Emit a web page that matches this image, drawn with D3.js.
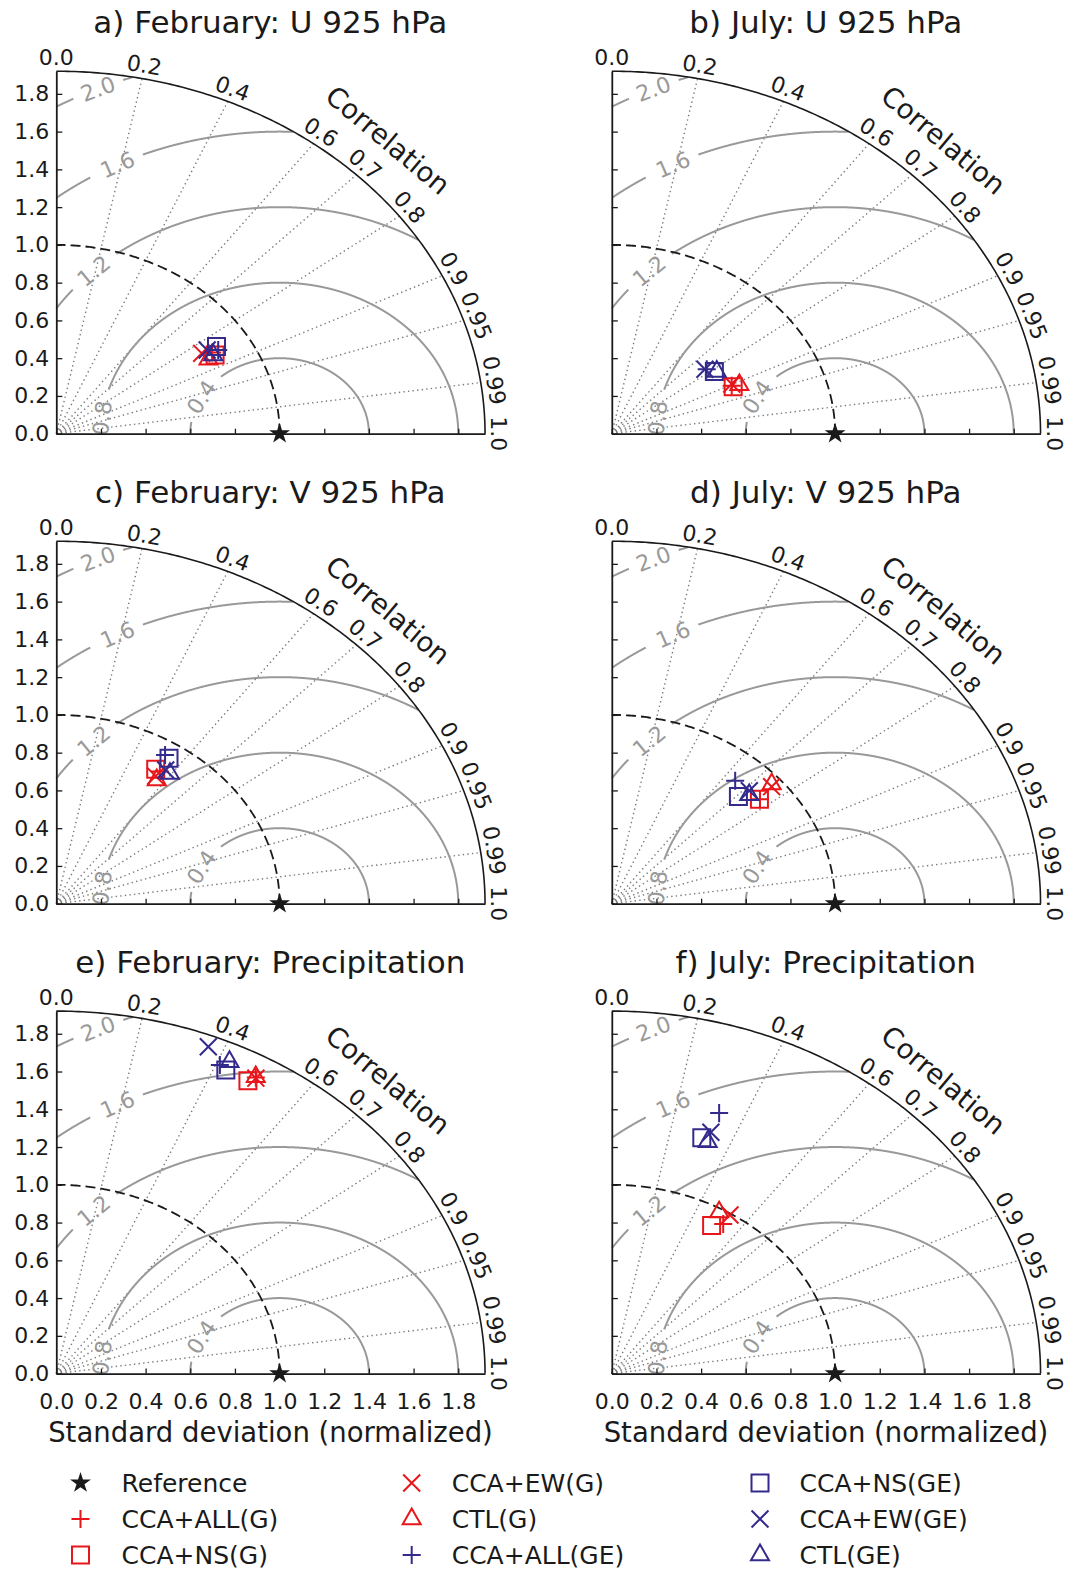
<!DOCTYPE html>
<html><head><meta charset="utf-8">
<script src="https://cdn.jsdelivr.net/npm/d3@7"></script>
<style>body{margin:0;background:#fff} svg{display:block} text{font-family:"DejaVu Sans",sans-serif}</style>
</head><body><svg id="c" width="1070" height="1569"></svg>
<script>
// ---------------- data ----------------
const titles = ["a) February: U 925 hPa", "b) July: U 925 hPa", "c) February: V 925 hPa",
                "d) July: V 925 hPa", "e) February: Precipitation", "f) July: Precipitation"];
const seriesNames = ["CCA+ALL(G)", "CCA+NS(G)", "CCA+EW(G)", "CTL(G)",
                     "CCA+ALL(GE)", "CCA+NS(GE)", "CCA+EW(GE)", "CTL(GE)"];
const refName = "Reference";
const refStd = 1.0;
// normalized standard deviation and correlation, per panel, in seriesNames order
const stdA  = [0.820, 0.824, 0.778, 0.787, 0.850, 0.853, 0.808, 0.817];
const corrA = [0.851, 0.863, 0.837, 0.866, 0.853, 0.841, 0.836, 0.860];
const stdB  = [0.594, 0.598, 0.598, 0.627, 0.545, 0.565, 0.539, 0.574];
const corrB = [0.904, 0.909, 0.898, 0.911, 0.780, 0.813, 0.774, 0.819];
const stdC  = [0.840, 0.840, 0.809, 0.795, 0.926, 0.921, 0.861, 0.857];
const corrC = [0.552, 0.530, 0.550, 0.566, 0.526, 0.548, 0.569, 0.594];
const stdD  = [0.864, 0.862, 0.947, 0.956, 0.854, 0.802, 0.859, 0.843];
const corrD = [0.768, 0.767, 0.756, 0.749, 0.647, 0.707, 0.717, 0.730];
const stdE  = [1.805, 1.773, 1.802, 1.808, 1.791, 1.778, 1.860, 1.825];
const corrE = [0.495, 0.484, 0.496, 0.494, 0.409, 0.427, 0.366, 0.425];
const stdF  = [0.936, 0.903, 0.993, 0.981, 1.461, 1.313, 1.353, 1.301];
const corrF = [0.533, 0.495, 0.533, 0.490, 0.329, 0.307, 0.328, 0.330];
const panelStd  = [stdA, stdB, stdC, stdD, stdE, stdF];
const panelCorr = [corrA, corrB, corrC, corrD, corrE, corrF];

const stdTicks   = [0, 0.2, 0.4, 0.6, 0.8, 1.0, 1.2, 1.4, 1.6, 1.8];
const corrTicks  = [0, 0.2, 0.4, 0.6, 0.7, 0.8, 0.9, 0.95, 0.99, 1.0];
const corrLabels = ["0.0", "0.2", "0.4", "0.6", "0.7", "0.8", "0.9", "0.95", "0.99", "1.0"];
const rmsLevels  = [0.4, 0.8, 1.2, 1.6, 2.0];
const rmsLabels  = ["0.4", "0.8", "1.2", "1.6", "2.0"];
const stdMax = 1.92;
const xLabel = "Standard deviation (normalized)";
const corrTitle = "Correlation";

// ---------------- layout / style ----------------
const SX = 223.3, SY = 188.8;
const origins = [[56.3, 433.7], [611.8, 433.7], [56.3, 903.7], [611.8, 903.7], [56.3, 1373.6], [611.8, 1373.6]];
const RED = "#e8161b", BLUE = "#342a8c", INK = "#1a1a1a", GRAY = "#999999", DOT = "#7a7a7a";
const seriesMarker = ["+", "s", "x", "^", "+", "s", "x", "^"];
const seriesColor = [RED, RED, RED, RED, BLUE, BLUE, BLUE, BLUE];
const symbolFor = {"+": d3.symbolPlus, "s": d3.symbolSquare2, "x": d3.symbolTimes, "^": d3.symbolTriangle2};
const sizeFor = {"+": 108, "s": 368, "x": 189, "^": 232};
// contour label placement: angle (deg, around the reference point) and gap
const rmsLabelCfg = [
  {phi: 151, gap: [131, 171]},
  {phi: 174, gap: [163, 185]},
  {phi: 134, gap: [127.5, 140.5]},
  {phi: 117, gap: [112.5, 122]},
  {phi: 114, gap: [110.5, 117.5]}
];

const svg = d3.select("#c");
const rad = d => d * Math.PI / 180;

titles.forEach((title, i) => {
  const [ox, oy] = origins[i];
  const col = i % 2, row = Math.floor(i / 2);
  const x = d3.scaleLinear().domain([0, stdMax]).range([ox, ox + stdMax * SX]);
  const y = d3.scaleLinear().domain([0, stdMax]).range([oy, oy - stdMax * SY]);
  const g = svg.append("g");

  // correlation grid (dotted)
  corrTicks.filter(c => c > 0 && c < 1).forEach(c => {
    const t = Math.acos(c);
    g.append("line")
      .attr("x1", x(0)).attr("y1", y(0))
      .attr("x2", x(stdMax * Math.cos(t))).attr("y2", y(stdMax * Math.sin(t)))
      .attr("stroke", DOT).attr("stroke-width", 1.4).attr("stroke-dasharray", "1.4,3.2");
  });

  // centred RMS difference contours
  const phis = d3.range(0, 180.001, 0.1);
  rmsLevels.forEach((R, k) => {
    const cfg = rmsLabelCfg[k];
    const pts = phis.map(p => {
      const px = refStd + R * Math.cos(rad(p)), py = R * Math.sin(rad(p));
      const ok = px >= 0 && py >= 0 && (px * px + py * py) <= stdMax * stdMax &&
                 !(p > cfg.gap[0] && p < cfg.gap[1]);
      return {px, py, ok};
    });
    g.append("path")
      .attr("d", d3.line().defined(d => d.ok).x(d => x(d.px)).y(d => y(d.py))(pts))
      .attr("fill", "none").attr("stroke", GRAY).attr("stroke-width", 2);
    const lp = rad(cfg.phi);
    const lx = x(refStd + R * Math.cos(lp)), ly = y(R * Math.sin(lp));
    const ang = Math.atan2(SY * Math.cos(lp), SX * Math.sin(lp)) * 180 / Math.PI;
    g.append("text").attr("transform", `translate(${lx},${ly}) rotate(${ang})`)
      .attr("text-anchor", "middle").attr("dy", "0.36em")
      .attr("font-size", 22).attr("fill", GRAY).text(rmsLabels[k]);
  });

  // reference std circle (dashed)
  const arcT = d3.range(0, 90.001, 0.5).map(rad);
  g.append("path")
    .attr("d", d3.line().x(t => x(refStd * Math.cos(t))).y(t => y(refStd * Math.sin(t)))(arcT))
    .attr("fill", "none").attr("stroke", INK).attr("stroke-width", 1.8).attr("stroke-dasharray", "10,5");

  // outer arc
  g.append("path")
    .attr("d", d3.line().x(t => x(stdMax * Math.cos(t))).y(t => y(stdMax * Math.sin(t)))(arcT))
    .attr("fill", "none").attr("stroke", INK).attr("stroke-width", 1.6);

  // axes
  const xa = d3.axisBottom(x).tickValues(stdTicks).tickSize(-5).tickSizeOuter(0).tickPadding(19.5)
    .tickFormat(row === 2 ? d3.format(".1f") : () => "");
  const ya = d3.axisLeft(y).tickValues(stdTicks).tickSize(-6).tickSizeOuter(0).tickPadding(7)
    .tickFormat(col === 0 ? d3.format(".1f") : () => "");
  const gx = g.append("g").attr("transform", `translate(0,${oy})`).call(xa);
  const gy = g.append("g").attr("transform", `translate(${ox},0)`).call(ya);
  [gx, gy].forEach(a => {
    a.attr("font-family", null).attr("font-size", null);
    a.select(".domain").attr("stroke", INK).attr("stroke-width", 1.8);
    a.selectAll(".tick line").attr("stroke", INK).attr("stroke-width", 1.3);
    a.selectAll(".tick text").attr("fill", INK).attr("font-size", 22);
  });

  // correlation tick labels
  corrTicks.forEach((c, k) => {
    const t = Math.acos(c);
    const ax = x(stdMax * Math.cos(t)), ay = y(stdMax * Math.sin(t));
    const ang = Math.atan2(SY * Math.cos(t), SX * Math.sin(t)) * 180 / Math.PI;
    g.append("text").attr("transform", `translate(${ax},${ay}) rotate(${ang})`)
      .attr("x", 0).attr("y", -6).attr("text-anchor", "middle")
      .attr("font-size", 22).attr("fill", INK).text(corrLabels[k]);
  });
  {
    const t = rad(45.3);
    const ax = x(stdMax * Math.cos(t)), ay = y(stdMax * Math.sin(t));
    const ang = Math.atan2(SY * Math.cos(t), SX * Math.sin(t)) * 180 / Math.PI;
    g.append("text").attr("transform", `translate(${ax},${ay}) rotate(${ang})`)
      .attr("x", 0).attr("y", -47).attr("dy", "0.36em").attr("text-anchor", "middle")
      .attr("font-size", 27.5).attr("fill", INK).text(corrTitle);
  }

  // title
  g.append("text").attr("x", ox + 214).attr("y", oy - 400.7).attr("text-anchor", "middle")
    .attr("font-size", 31).attr("fill", INK).text(title);

  // x label
  if (row === 2) {
    g.append("text").attr("x", ox + 214.2).attr("y", oy + 68.4).attr("text-anchor", "middle")
      .attr("font-size", 27.5).attr("fill", INK).text(xLabel);
  }

  // reference star
  g.append("path").attr("d", d3.symbol(d3.symbolStar, 135)())
    .attr("transform", `translate(${x(refStd)},${y(0)})`).attr("fill", INK);

  // model points
  const S = panelStd[i], C = panelCorr[i];
  seriesNames.forEach((nm, k) => {
    const px = S[k] * C[k], py = S[k] * Math.sqrt(1 - C[k] * C[k]);
    const m = seriesMarker[k];
    g.append("path").attr("d", d3.symbol(symbolFor[m], sizeFor[m])())
      .attr("transform", `translate(${x(px)},${y(py)})`)
      .attr("fill", "none").attr("stroke", seriesColor[k]).attr("stroke-width", 2);
  });
});

// legend (column-major, 3 rows)
const legItems = [{name: refName, m: "*", c: INK}].concat(
  seriesNames.map((n, k) => ({name: n, m: seriesMarker[k], c: seriesColor[k]})));
const legMarkX = [80.5, 411.7, 760], legTextX = [121.5, 451.7, 799.5], legY = [1483, 1519, 1555];
const lg = svg.append("g");
legItems.forEach((it, k) => {
  const c = Math.floor(k / 3), r = k % 3;
  if (it.m === "*") {
    lg.append("path").attr("d", d3.symbol(d3.symbolStar, 135)())
      .attr("transform", `translate(${legMarkX[c]},${legY[r]})`).attr("fill", INK);
  } else {
    lg.append("path").attr("d", d3.symbol(symbolFor[it.m], sizeFor[it.m])())
      .attr("transform", `translate(${legMarkX[c]},${legY[r]})`)
      .attr("fill", "none").attr("stroke", it.c).attr("stroke-width", 2);
  }
  lg.append("text").attr("x", legTextX[c]).attr("y", legY[r] + 9)
    .attr("font-size", 25).attr("fill", INK).text(it.name);
});
</script>
</body></html>
